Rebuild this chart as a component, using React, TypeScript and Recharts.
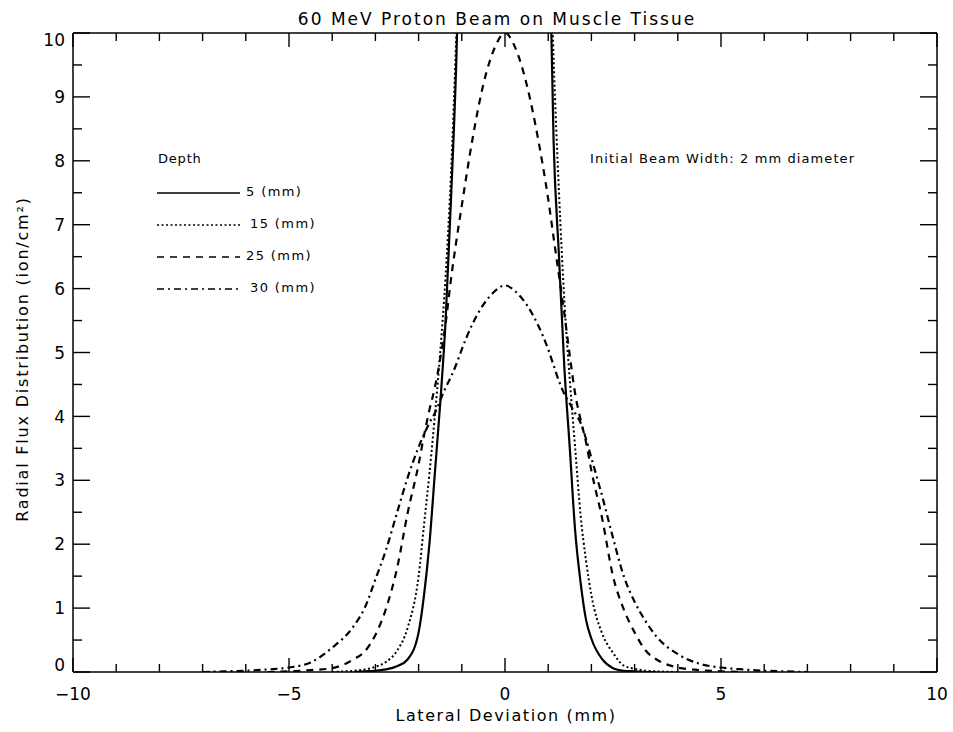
import { LineChart, Line, XAxis, YAxis, ReferenceLine } from "recharts"

// lateral deviation (mm) sample points
const xs = [
  -7, -6.5, -6, -5.5, -5, -4.5, -4, -3.5, -3.25, -3, -2.75, -2.5, -2.25, -2,
  -1.875, -1.75, -1.625, -1.5, -1.375, -1.25, -1.125, -1, -0.75, -0.5, -0.25, 0,
  0.25, 0.5, 0.75, 1, 1.125, 1.25, 1.375, 1.5, 1.625, 1.75, 1.875, 2, 2.25, 2.5,
  2.75, 3, 3.25, 3.5, 4, 4.5, 5, 5.5, 6, 6.5, 7,
]

// radial flux per depth (ion/cm^2)
const depth5 = [
  null, null, null, null, null, null, null, 0, 0.01, 0.02, 0.04, 0.09, 0.2, 0.62,
  1.2, 2.0, 3.1, 4.2, 5.5, 7.4, 9.6, 13, 18, 20, 21, 21,
  21, 20, 18, 12.5, 8.3, 6.5, 4.75, 3.5, 2.2, 1.4, 0.82, 0.52, 0.2, 0.06,
  0.02, 0.01, 0, 0, null, null, null, null, null, null, null,
]
const depth15 = [
  null, null, null, null, null, null, 0, 0.02, 0.04, 0.08, 0.16, 0.33, 0.7, 1.5,
  2.3, 3.1, 4.0, 5.0, 6.2, 7.8, 10, 12.5, 15, 16.5, 17, 17,
  17, 16.5, 15, 12.5, 9.6, 7.5, 5.8, 4.57, 3.5, 2.45, 1.75, 1.2, 0.6, 0.3,
  0.1, 0.05, 0.02, 0.01, 0, null, null, null, null, null, null,
]
const depth25 = [
  null, null, null, 0, 0.01, 0.03, 0.06, 0.2, 0.32, 0.58, 1.0, 1.62, 2.5, 3.25,
  3.7, 4.1, 4.45, 4.9, 5.45, 6.15, 6.75, 7.3, 8.35, 9.2, 9.75, 10,
  9.75, 9.2, 8.4, 7.4, 6.8, 6.2, 5.6, 4.95, 4.35, 3.95, 3.6, 3.15, 2.4, 1.5,
  0.98, 0.62, 0.34, 0.2, 0.07, 0.03, 0.01, 0, null, null, null,
]
const depth30 = [
  0, 0.01, 0.02, 0.04, 0.07, 0.15, 0.38, 0.72, 1.0, 1.45, 1.92, 2.49, 3.05, 3.52,
  3.72, 3.9, 4.05, 4.25, 4.45, 4.62, 4.82, 5.05, 5.45, 5.75, 5.95, 6.05,
  5.95, 5.75, 5.45, 5.05, 4.8, 4.55, 4.35, 4.2, 4.05, 3.9, 3.65, 3.35, 2.75, 2.1,
  1.5, 1.1, 0.8, 0.56, 0.28, 0.13, 0.07, 0.04, 0.02, 0.01, 0,
]

const depthLabels = ["5 (mm)", "15 (mm)", "25 (mm)", "30 (mm)"]
const xTicks = [-10, -9, -8, -7, -6, -5, -4, -3, -2, -1, 0, 1, 2, 3, 4, 5, 6, 7, 8, 9, 10]
const yTicks = [0, 0.5, 1, 1.5, 2, 2.5, 3, 3.5, 4, 4.5, 5, 5.5, 6, 6.5, 7, 7.5, 8, 8.5, 9, 9.5, 10]

const chartData = xs.map((x, i) => ({
  x,
  d5: depth5[i],
  d15: depth15[i],
  d25: depth25[i],
  d30: depth30[i],
}))

const W = 953
const H = 732
const TOP = 33
const BOTTOM = 672
const FONT = "DejaVu Sans"
const INK = "#000"

const series = [
  { key: "d5", dash: undefined as string | undefined, width: 2.2 },
  { key: "d15", dash: "2 2.5", width: 2 },
  { key: "d25", dash: "7 6", width: 2.2 },
  { key: "d30", dash: "7 4 2 4", width: 2.2 },
]

const fmt = (v: number) => (v < 0 ? "\u2212" + Math.abs(v) : String(v))

function LeftTick({ x, y, payload }: any) {
  const v = payload.value
  const major = Number.isInteger(v)
  const ax = x + 8
  const ty = Math.min(Math.max(y, TOP + 7), BOTTOM - 7)
  return (
    <g>
      <line x1={ax} x2={ax + (major ? 17 : 9)} y1={y} y2={y} stroke={INK} strokeWidth={1.4} />
      {major && (
        <text x={x} y={ty} dy="0.36em" textAnchor="end" fontFamily={FONT} fontSize={17} fill={INK}>
          {v}
        </text>
      )}
    </g>
  )
}

function RightTick({ x, y, payload }: any) {
  const major = Number.isInteger(payload.value)
  return <line x1={x} x2={x - (major ? 17 : 9)} y1={y} y2={y} stroke={INK} strokeWidth={1.4} />
}

// bottom ticks also mirror their inward marks on the top edge of the frame
function BottomTick({ x, y, payload }: any) {
  const v = payload.value
  const major = v % 5 === 0
  const len = major ? 14 : 8
  const ay = y - 10
  return (
    <g>
      <line x1={x} x2={x} y1={ay} y2={ay - len} stroke={INK} strokeWidth={1.4} />
      <line x1={x} x2={x} y1={TOP} y2={TOP + len} stroke={INK} strokeWidth={1.4} />
      {major && (
        <text x={x} y={ay + 28} textAnchor="middle" fontFamily={FONT} fontSize={17} fill={INK}>
          {fmt(v)}
        </text>
      )}
    </g>
  )
}

export default function App() {
  return (
    <div style={{ position: "absolute", left: 0, top: 0, width: W, height: H, background: "#fff" }}>
      <LineChart width={W} height={H} data={chartData} margin={{ top: TOP, right: 15, bottom: 0, left: 0 }}>
        <XAxis
          dataKey="x"
          type="number"
          domain={[-10, 10]}
          ticks={xTicks}
          interval={0}
          allowDataOverflow
          height={60}
          tickSize={0}
          tickMargin={10}
          tickLine={false}
          axisLine={{ stroke: INK, strokeWidth: 1.5 }}
          tick={<BottomTick />}
        />
        <YAxis
          type="number"
          domain={[0, 10]}
          ticks={yTicks}
          interval={0}
          allowDataOverflow
          width={73}
          tickSize={0}
          tickMargin={8}
          tickLine={false}
          axisLine={{ stroke: INK, strokeWidth: 1.5 }}
          tick={<LeftTick />}
        />
        <YAxis
          yAxisId="right"
          orientation="right"
          type="number"
          domain={[0, 10]}
          ticks={yTicks}
          interval={0}
          allowDataOverflow
          width={1}
          tickSize={0}
          tickMargin={0}
          tickLine={false}
          axisLine={{ stroke: INK, strokeWidth: 1.5 }}
          tick={<RightTick />}
        />
        {/* top edge of the frame */}
        <ReferenceLine y={10} stroke={INK} strokeWidth={1.5} />
        {series.map((s) => (
          <Line
            key={s.key}
            dataKey={s.key}
            type="monotone"
            stroke={INK}
            strokeWidth={s.width}
            strokeDasharray={s.dash}
            dot={false}
            activeDot={false}
            connectNulls={false}
            isAnimationActive={false}
          />
        ))}
        {/* invisible series so the mirrored right axis gets drawn */}
        <Line
          yAxisId="right"
          dataKey="d30"
          stroke="none"
          strokeWidth={0}
          dot={false}
          activeDot={false}
          legendType="none"
          isAnimationActive={false}
        />
      </LineChart>

      <svg width={W} height={H} style={{ position: "absolute", left: 0, top: 0, pointerEvents: "none" }}>
        <text x={497} y={25} textAnchor="middle" fontFamily={FONT} fontSize={17} letterSpacing={2} fill={INK}>
          60 MeV Proton Beam on Muscle Tissue
        </text>
        <text x={506} y={721} textAnchor="middle" fontFamily={FONT} fontSize={16} letterSpacing={1.6} fill={INK}>
          Lateral Deviation (mm)
        </text>
        <text
          transform="translate(28,359) rotate(-90)"
          textAnchor="middle"
          fontFamily={FONT}
          fontSize={16}
          letterSpacing={1.8}
          fill={INK}
        >
          Radial Flux Distribution (ion/cm²)
        </text>

        <text x={158} y={163} fontFamily={FONT} fontSize={13} letterSpacing={0.8} fill={INK}>
          Depth
        </text>
        {series.map((s, i) => {
          const ly = 193 + i * 32
          return (
            <g key={s.key}>
              <line x1={157} x2={240} y1={ly} y2={ly} stroke={INK} strokeWidth={1.3} strokeDasharray={s.dash} />
              <text x={i === 0 || i === 2 ? 246 : 250} y={ly + 3} fontFamily={FONT} fontSize={13} letterSpacing={1.4} fill={INK}>
                {depthLabels[i]}
              </text>
            </g>
          )
        })}

        <text x={590} y={163} fontFamily={FONT} fontSize={13} letterSpacing={1.1} fill={INK}>
          Initial Beam Width: 2 mm diameter
        </text>
      </svg>
    </div>
  )
}
